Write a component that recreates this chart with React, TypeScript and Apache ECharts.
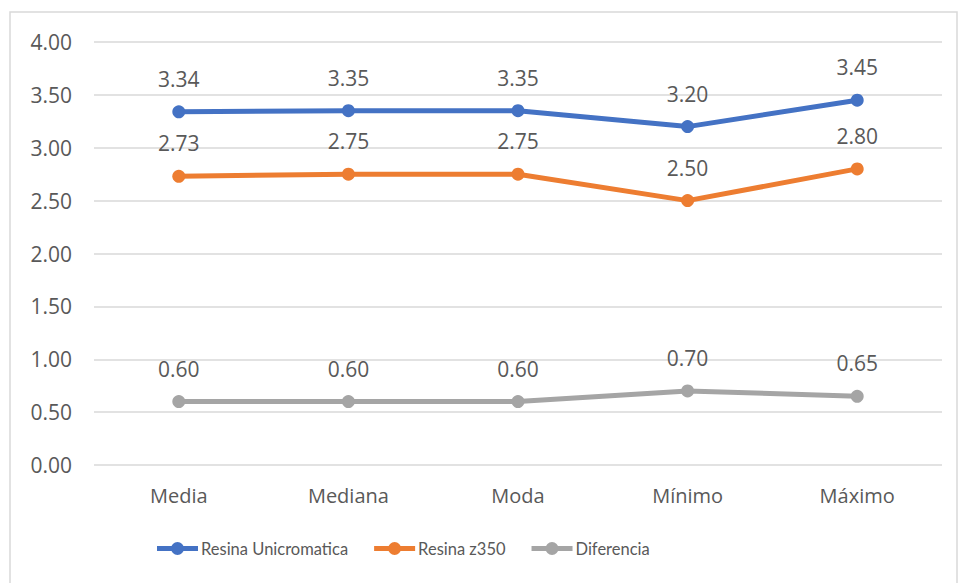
import React, { useEffect, useRef } from "react";
import * as echarts from "echarts";

const categories = ["Media", "Mediana", "Moda", "Mínimo", "Máximo"];
const unicromatica = [3.34, 3.35, 3.35, 3.2, 3.45];
const z350 = [2.73, 2.75, 2.75, 2.5, 2.8];
const diferencia = [0.6, 0.6, 0.6, 0.7, 0.65];
const seriesNames = ["Resina Unicromatica", "Resina z350", "Diferencia"];
const colors = ["#4472C4", "#ED7D31", "#A5A5A5"];

const FONT = "'Open Sans', sans-serif";
const LEGEND_FONT = "Lato, 'Open Sans', sans-serif";
const TXT = "#595959";
const LEGEND_ICON =
  "path://M0,4.5 L41,4.5 L41,9.5 L0,9.5 Z M14,7 A6.5,6.5 0 1,1 27,7 A6.5,6.5 0 1,1 14,7 Z";

export default function App() {
  const ref = useRef<HTMLDivElement>(null);
  useEffect(() => {
    document.body.style.margin = "0";
    const chart = echarts.init(ref.current!, null, { renderer: "svg" });
    const mk = (name: string, data: number[], color: string) => ({
      name,
      type: "line",
      data,
      symbol: "circle",
      symbolSize: 13,
      lineStyle: { width: 5, color },
      itemStyle: { color },
      label: {
        show: true,
        position: "top",
        distance: 16,
        formatter: (p: any) => p.value.toFixed(2),
        color: TXT,
        fontSize: 21,
        fontFamily: FONT,
      },
    });
    chart.setOption({
      animation: false,
      color: colors,
      graphic: [
        {
          type: "rect",
          shape: { x: 10, y: 12, width: 947, height: 575 },
          style: { fill: "none", stroke: "#d9d9d9", lineWidth: 1.5 },
          silent: true,
        },
      ],
      grid: { left: 94, right: 17, top: 42, bottom: 118 },
      xAxis: {
        type: "category",
        data: categories,
        axisLine: { show: false },
        axisTick: { show: false },
        axisLabel: { color: TXT, fontSize: 20, fontFamily: FONT, margin: 20 },
      },
      yAxis: {
        type: "value",
        min: 0,
        max: 4,
        interval: 0.5,
        axisLine: { show: false },
        axisTick: { show: false },
        splitLine: { lineStyle: { color: "#d9d9d9", width: 1.5 } },
        axisLabel: {
          color: TXT,
          fontSize: 21,
          fontFamily: FONT,
          margin: 22,
          formatter: (v: number) => v.toFixed(2),
        },
      },
      legend: {
        data: seriesNames.map((name) => ({ name, icon: LEGEND_ICON })),
        top: 535,
        left: 152,
        itemWidth: 41,
        itemHeight: 14,
        itemGap: 26,
        textStyle: { color: TXT, fontSize: 16.5, fontFamily: LEGEND_FONT, padding: [0, 0, 0, -2] },
      },
      series: [
        mk(seriesNames[0], unicromatica, colors[0]),
        mk(seriesNames[1], z350, colors[1]),
        mk(seriesNames[2], diferencia, colors[2]),
      ],
    });
    return () => chart.dispose();
  }, []);
  return <div ref={ref} style={{ width: 959, height: 583 }} />;
}
